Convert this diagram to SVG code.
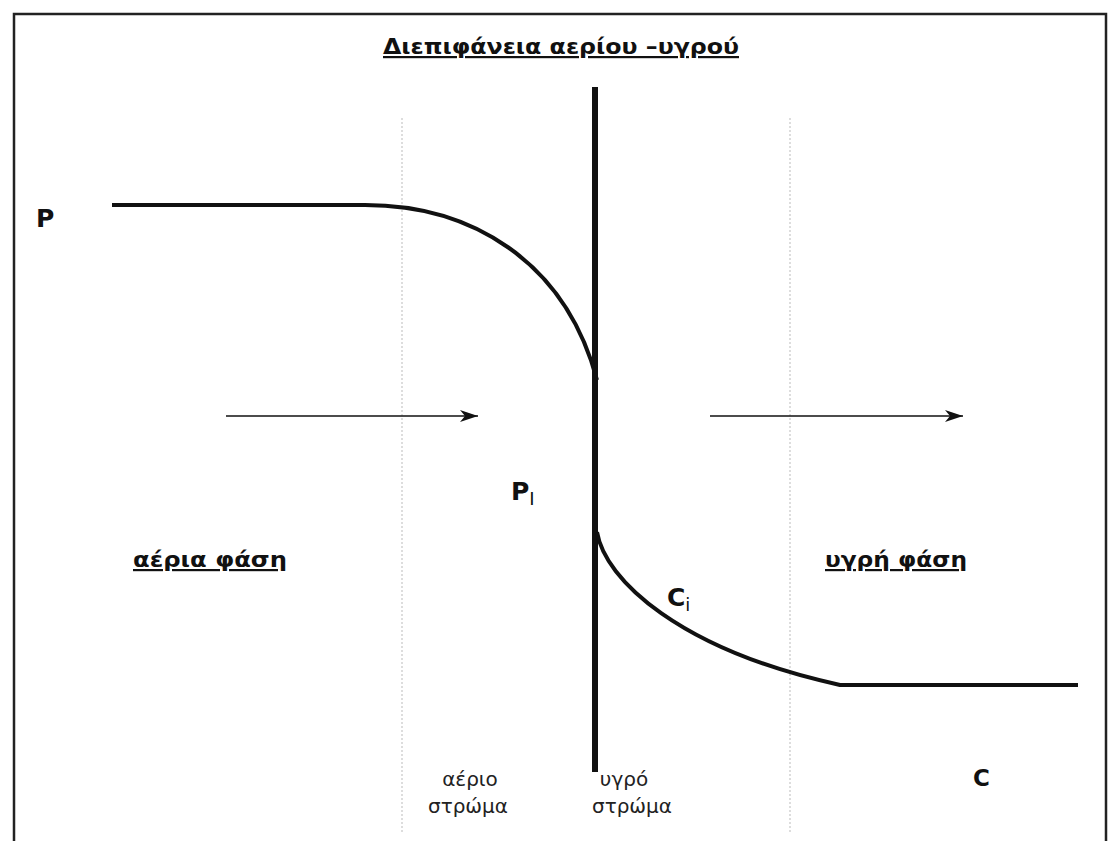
<svg xmlns="http://www.w3.org/2000/svg" width="1108" height="841" viewBox="0 0 1108 841">
<defs>
<style>
.frame{stroke:#222;stroke-width:2.5;fill:none}
.dot{stroke:#bbb;stroke-width:1;stroke-dasharray:2 2;fill:none}
.curve{stroke:#111;stroke-width:4;fill:none}
.arr{stroke:#111;stroke-width:1.5;fill:none}
.b{font-family:"DejaVu Sans",sans-serif;font-weight:bold;fill:#111}
.n{font-family:"DejaVu Sans",sans-serif;fill:#222}
.u{text-decoration:underline}
</style>
<marker id="ah" markerWidth="20" markerHeight="12" refX="18" refY="6" orient="auto" markerUnits="userSpaceOnUse">
<path d="M0,0 L18,6 L0,12 L5,6 Z" fill="#111"/>
</marker>
</defs>
<rect width="1108" height="841" fill="#fff"/>
<g id="frame">
<path class="frame" d="M14,841 V14 H1106 V841"/>
</g>
<g id="layers">
<line class="dot" x1="402" y1="118" x2="402" y2="832"/>
<line class="dot" x1="790" y1="118" x2="790" y2="832"/>
</g>
<g id="interface">
<line x1="595" y1="87" x2="595" y2="772" stroke="#111" stroke-width="6"/>
</g>
<g id="connectors">
<path class="curve" d="M112,205 H365 C470,205 565,260 597,380"/>
<path class="curve" d="M597,532 C605,580 680,650 840,685 H1078"/>
<line class="arr" x1="226" y1="416" x2="478" y2="416" marker-end="url(#ah)"/>
<line class="arr" x1="710" y1="416" x2="963" y2="416" marker-end="url(#ah)"/>
</g>
<g id="labels">
<text class="b u" x="561" y="54" font-size="22" text-anchor="middle" textLength="356" lengthAdjust="spacingAndGlyphs">Διεπιφάνεια αερίου –υγρού</text>
<text class="b" x="36" y="227" font-size="25">P</text>
<text class="b" x="511" y="500" font-size="25">P<tspan font-size="18" font-weight="normal" dy="5">I</tspan></text>
<text class="b u" x="133" y="567" font-size="22" textLength="154" lengthAdjust="spacingAndGlyphs">αέρια φάση</text>
<text class="b u" x="825" y="567" font-size="22" textLength="142" lengthAdjust="spacingAndGlyphs">υγρή φάση</text>
<text class="b" x="667" y="606" font-size="25">C<tspan font-size="18" font-weight="normal" dy="5">i</tspan></text>
<text class="b" x="973" y="786" font-size="23">C</text>
<text class="n" x="470" y="786" font-size="20" text-anchor="middle">αέριο</text>
<text class="n" x="468" y="813" font-size="20" text-anchor="middle">στρώμα</text>
<text class="n" x="624" y="786" font-size="20" text-anchor="middle">υγρό</text>
<text class="n" x="632" y="813" font-size="20" text-anchor="middle">στρώμα</text>
</g>
</svg>
